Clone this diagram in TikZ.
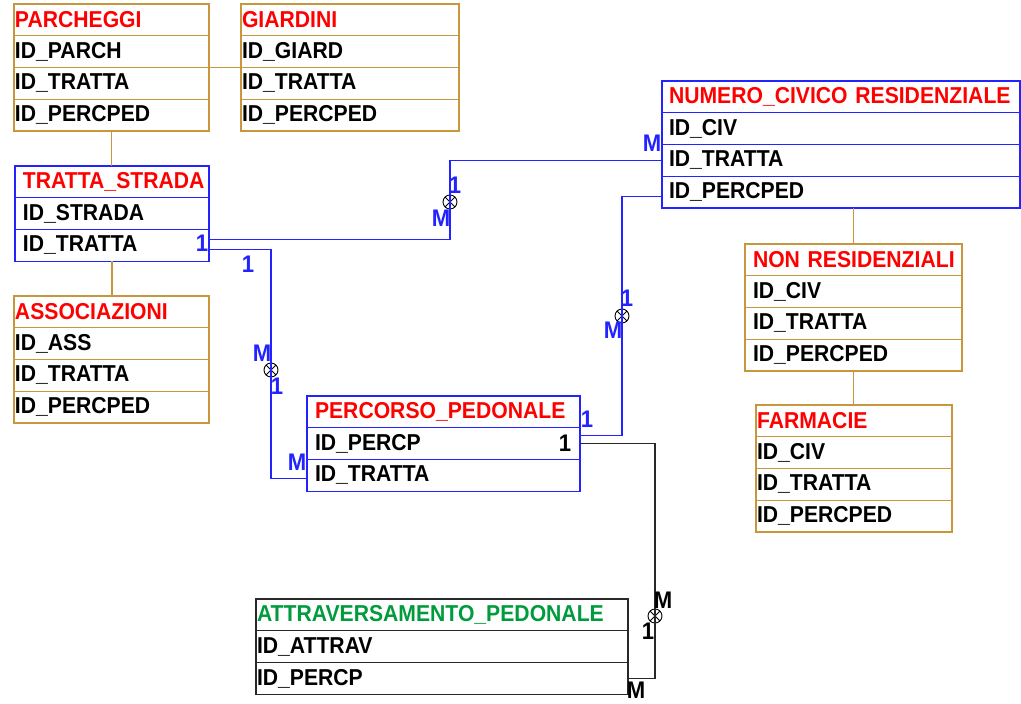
\documentclass[tikz,border=0pt]{standalone}
\usepackage{fontspec}
\setmainfont{Liberation Sans}[FakeStretch=0.92]
\usetikzlibrary{positioning,calc}
\definecolor{tan}{RGB}{200,150,60}
\definecolor{linkblue}{RGB}{35,35,255}
\definecolor{titlered}{RGB}{255,0,0}
\definecolor{titlegreen}{RGB}{0,155,60}
\definecolor{framegrey}{RGB}{40,40,40}
\tikzset{
  cell/.style={draw=#1,line width=1.2pt,anchor=north west,minimum height=31.75pt,
    inner ysep=0pt,outer sep=0pt,align=left,font=\fontsize{23}{23}\selectfont\bfseries},
  link/.style={draw=#1,line width=1.2pt},
  card/.style={text=#1,inner sep=0pt,font=\fontsize{24}{24}\selectfont\bfseries},
  xmark/.style={circle,draw=black,line width=0.9pt,minimum size=14pt,inner sep=0pt,
    path picture={\draw[line width=0.9pt]
      (path picture bounding box.north west) -- (path picture bounding box.south east)
      (path picture bounding box.north east) -- (path picture bounding box.south west);}},
}
% name, north west corner, width, padding, frame, title colour, title, fields
\newcommand\entity[8]{%
  \pgfmathsetmacro\tw{#3-2*#4}%
  \node[cell=#5,inner xsep=#4pt,text width=\tw pt,text=#6] (#1-0) at #2 {\mbox{#7}};
  \foreach \f [count=\i, remember=\i as \p (initially 0)] in {#8}
    {\node[cell=#5,inner xsep=#4pt,text width=\tw pt] (#1-\i) at (#1-\p.south west) {\f};}%
}

\begin{document}
\begin{tikzpicture}[x=1pt,y=-1pt]
\useasboundingbox (0,0) rectangle (1021,704);
\entity{parch}{(14,4)}{195}{1}{tan}{titlered}{PARCHEGGI}{ID\_PARCH, ID\_TRATTA, ID\_PERCPED}
\entity{giard}{(241,4)}{218}{1}{tan}{titlered}{GIARDINI}{ID\_GIARD, ID\_TRATTA, ID\_PERCPED}
\entity{tratta}{(15,166)}{194}{8}{linkblue}{titlered}{TRATTA\_STRADA}{ID\_STRADA, ID\_TRATTA}
\entity{assoc}{(14,296)}{195}{1}{tan}{titlered}{ASSOCIAZIONI}{ID\_ASS, ID\_TRATTA, ID\_PERCPED}
\entity{numero}{(662,81)}{358}{7}{linkblue}{titlered}{NUMERO\_CIVICO RESIDENZIALE}{ID\_CIV, ID\_TRATTA, ID\_PERCPED}
\entity{nonres}{(745,244)}{217}{8}{tan}{titlered}{NON RESIDENZIALI}{ID\_CIV, ID\_TRATTA, ID\_PERCPED}
\entity{farm}{(756,405)}{196}{1}{tan}{titlered}{FARMACIE}{ID\_CIV, ID\_TRATTA, ID\_PERCPED}
\entity{perc}{(307,396)}{273}{8}{linkblue}{titlered}{PERCORSO\_PEDONALE}{ID\_PERCP, ID\_TRATTA}
\entity{attrav}{(256,599)}{372}{1}{framegrey}{titlegreen}{ATTRAVERSAMENTO\_PEDONALE}{ID\_ATTRAV, ID\_PERCP}

% sub-entities
\draw[link=tan] (parch-1.south east) -- (giard-1.south west);
\draw[link=tan] (parch-3.south) -- (parch-3.south |- tratta-0.north);
\draw[link=tan] (tratta-2.south) -- (tratta-2.south |- assoc-0.north);
\draw[link=tan] (nonres-0.north |- numero-3.south) -- (nonres-0.north);
\draw[link=tan] (nonres-3.south) -- (nonres-3.south |- farm-0.north);

% relations
\node[xmark] (j1) at (450,202) {};
\node[xmark] (j2) at (271,370) {};
\node[xmark] (j3) at (622,316) {};
\node[xmark] (j4) at (655,616) {};
\draw[link=linkblue] ([yshift=6pt]tratta-2.east) -| (j1.center) |- (numero-2.west);
\draw[link=linkblue] ([yshift=-4pt]tratta-2.east) -| (j2.center) |- ([yshift=-3pt]perc-2.west);
\draw[link=linkblue] ([yshift=8pt]perc-1.east) -| (j3.center) |- ([yshift=-4pt]numero-3.west);
\draw[link=framegrey] (perc-1.east) -| (j4.center) |- (attrav-2.east);

\node[card=linkblue] (c1a) at (202,243) {1};
\node[card=linkblue] (c1b) at (455,185) {1};
\node[card=linkblue] (c1c) at (441,218) {M};
\node[card=linkblue] (c1d) at (652,143) {M};
\node[card=linkblue] (c2a) at (248,264) {1};
\node[card=linkblue] (c2b) at (262,353) {M};
\node[card=linkblue] (c2c) at (277,386) {1};
\node[card=linkblue] (c2d) at (297,462) {M};
\node[card=linkblue] (c3a) at (587,419) {1};
\node[card=linkblue] (c3b) at (627,298) {1};
\node[card=linkblue] (c3c) at (613,330) {M};
\node[card=black] (c4a) at (565,443) {1};
\node[card=black] (c4b) at (663,600) {M};
\node[card=black] (c4c) at (648,631) {1};
\node[card=black] (c4d) at (636,690) {M};
\end{tikzpicture}
\end{document}
